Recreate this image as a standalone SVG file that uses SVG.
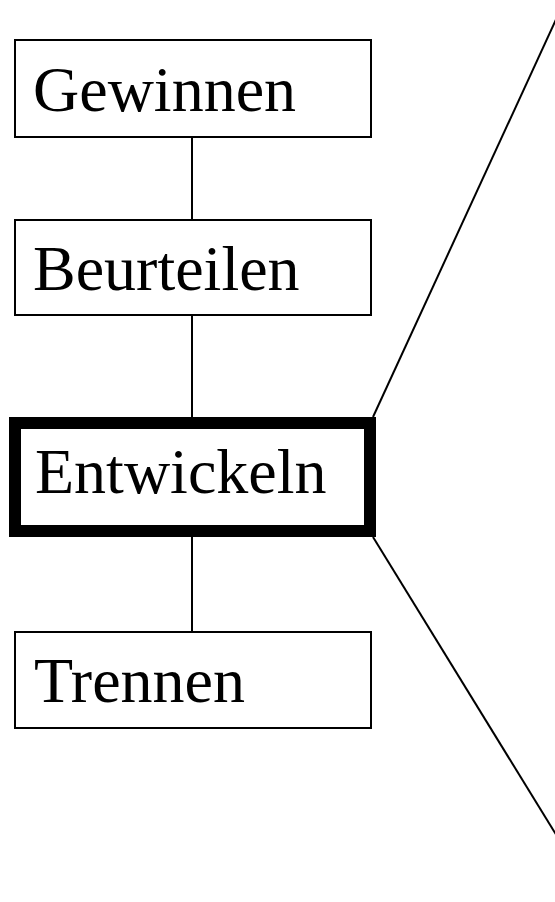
<svg xmlns="http://www.w3.org/2000/svg" width="555" height="902" viewBox="0 0 555 902">
<style>
.box{fill:#fff;stroke:#000;stroke-width:2}
.thick{fill:#fff;stroke:#000;stroke-width:12}
.lbl{font-family:"Liberation Serif","Times New Roman",serif;font-size:64px;fill:#000}
.conn{stroke:#000;stroke-width:2;fill:none}
</style>
<rect width="555" height="902" fill="#fff"/>
<g id="connectors">
<line class="conn" x1="192" y1="137" x2="192" y2="220"/>
<line class="conn" x1="192" y1="315" x2="192" y2="420"/>
<line class="conn" x1="192" y1="534" x2="192" y2="632"/>
<line class="conn" x1="373" y1="417" x2="565" y2="0"/>
<line class="conn" x1="373" y1="537" x2="560" y2="841"/>
</g>
<g id="gewinnen">
<rect class="box" x="15" y="40" width="356" height="97"/>
<text class="lbl" x="33" y="111">Gewinnen</text>
</g>
<g id="beurteilen">
<rect class="box" x="15" y="220" width="356" height="95"/>
<text class="lbl" x="33" y="290">Beurteilen</text>
</g>
<g id="entwickeln">
<rect class="thick" x="15" y="423" width="355" height="108"/>
<text class="lbl" x="35" y="493">Entwickeln</text>
</g>
<g id="trennen">
<rect class="box" x="15" y="632" width="356" height="96"/>
<text class="lbl" x="34" y="702">Trennen</text>
</g>
</svg>
